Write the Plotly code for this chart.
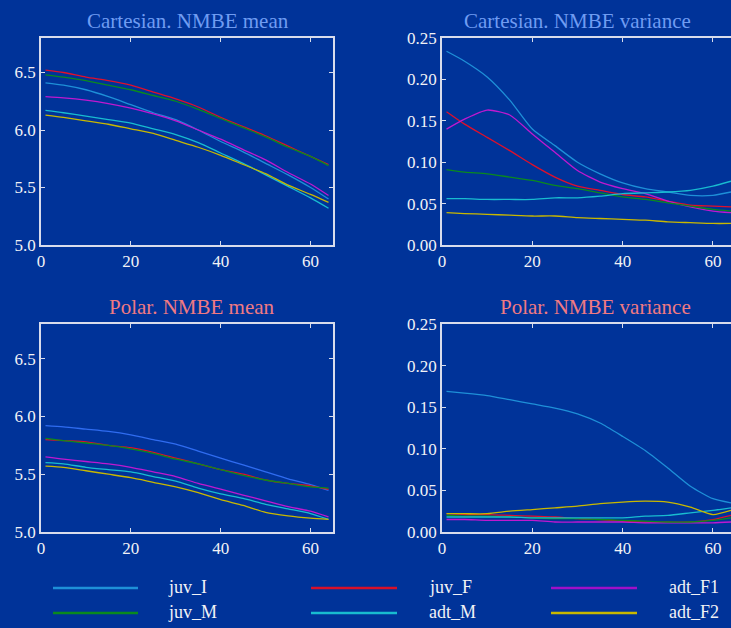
import plotly.graph_objects as go

# Sample positions along the horizontal axis
steps = [1, 5, 10, 15, 20, 25, 30, 35, 40, 45, 50, 55, 60, 64]

series = ["juv_I", "juv_F", "adt_F1", "juv_M", "adt_M", "adt_F2"]
colors = {
    "juv_I": "#1e90d8",
    "juv_F": "#e0102a",
    "adt_F1": "#c018d0",
    "juv_M": "#0a8a1e",
    "adt_M": "#18bcd0",
    "adt_F2": "#c8b800",
}
legend_colors = {
    "juv_I": "#1e90d8",
    "juv_F": "#d8102a",
    "adt_F1": "#a010c8",
    "juv_M": "#0a8a1e",
    "adt_M": "#18bcd0",
    "adt_F2": "#c8b800",
}
polar_juv_I_color = "#2f6cf0"

# Cartesian NMBE mean
cart_mean = {
    "juv_I":  [6.41, 6.39, 6.35, 6.29, 6.22, 6.15, 6.09, 6.00, 5.90, 5.81, 5.71, 5.61, 5.50, 5.40],
    "juv_F":  [6.52, 6.50, 6.46, 6.43, 6.39, 6.33, 6.27, 6.20, 6.11, 6.03, 5.95, 5.86, 5.77, 5.70],
    "adt_F1": [6.29, 6.28, 6.26, 6.23, 6.19, 6.14, 6.08, 6.00, 5.92, 5.83, 5.74, 5.63, 5.53, 5.43],
    "juv_M":  [6.48, 6.46, 6.43, 6.39, 6.35, 6.30, 6.25, 6.18, 6.10, 6.02, 5.94, 5.85, 5.77, 5.69],
    "adt_M":  [6.17, 6.15, 6.12, 6.09, 6.06, 6.01, 5.96, 5.89, 5.80, 5.71, 5.61, 5.51, 5.41, 5.32],
    "adt_F2": [6.13, 6.11, 6.08, 6.05, 6.01, 5.97, 5.91, 5.85, 5.78, 5.70, 5.62, 5.52, 5.44, 5.37],
}

# Cartesian NMBE variance
cart_var = {
    "juv_I":  [0.234, 0.222, 0.203, 0.175, 0.140, 0.120, 0.100, 0.086, 0.075, 0.068, 0.064, 0.060, 0.060, 0.064],
    "juv_F":  [0.161, 0.146, 0.130, 0.114, 0.097, 0.082, 0.071, 0.066, 0.061, 0.058, 0.053, 0.048, 0.047, 0.046],
    "adt_F1": [0.140, 0.152, 0.163, 0.157, 0.134, 0.112, 0.090, 0.076, 0.068, 0.062, 0.053, 0.046, 0.041, 0.039],
    "juv_M":  [0.091, 0.088, 0.086, 0.082, 0.078, 0.072, 0.068, 0.063, 0.058, 0.055, 0.051, 0.047, 0.043, 0.041],
    "adt_M":  [0.056, 0.056, 0.055, 0.055, 0.055, 0.057, 0.057, 0.059, 0.062, 0.063, 0.064, 0.066, 0.071, 0.077],
    "adt_F2": [0.039, 0.038, 0.037, 0.036, 0.035, 0.035, 0.033, 0.032, 0.031, 0.030, 0.028, 0.027, 0.026, 0.026],
}

# Polar NMBE mean
polar_mean = {
    "juv_I":  [5.92, 5.91, 5.89, 5.87, 5.84, 5.80, 5.76, 5.70, 5.64, 5.58, 5.52, 5.46, 5.41, 5.36],
    "juv_F":  [5.80, 5.79, 5.78, 5.75, 5.73, 5.69, 5.64, 5.59, 5.54, 5.50, 5.45, 5.42, 5.40, 5.37],
    "adt_F1": [5.65, 5.63, 5.61, 5.59, 5.56, 5.52, 5.48, 5.42, 5.37, 5.32, 5.27, 5.22, 5.18, 5.13],
    "juv_M":  [5.81, 5.79, 5.77, 5.75, 5.72, 5.68, 5.63, 5.59, 5.54, 5.49, 5.45, 5.42, 5.39, 5.38],
    "adt_M":  [5.60, 5.59, 5.56, 5.54, 5.52, 5.48, 5.44, 5.38, 5.33, 5.29, 5.24, 5.20, 5.16, 5.11],
    "adt_F2": [5.57, 5.56, 5.53, 5.50, 5.47, 5.43, 5.39, 5.34, 5.28, 5.23, 5.17, 5.14, 5.12, 5.11],
}

# Polar NMBE variance
polar_var = {
    "juv_I":  [0.169, 0.167, 0.164, 0.159, 0.154, 0.149, 0.142, 0.131, 0.115, 0.098, 0.077, 0.055, 0.040, 0.035],
    "juv_F":  [0.022, 0.021, 0.021, 0.020, 0.019, 0.018, 0.016, 0.015, 0.013, 0.012, 0.012, 0.012, 0.015, 0.020],
    "adt_F1": [0.015, 0.015, 0.014, 0.014, 0.014, 0.012, 0.012, 0.012, 0.012, 0.011, 0.011, 0.011, 0.011, 0.012],
    "juv_M":  [0.020, 0.019, 0.019, 0.018, 0.017, 0.016, 0.016, 0.015, 0.014, 0.013, 0.012, 0.012, 0.014, 0.017],
    "adt_M":  [0.018, 0.018, 0.018, 0.018, 0.017, 0.017, 0.017, 0.017, 0.017, 0.019, 0.020, 0.023, 0.026, 0.029],
    "adt_F2": [0.022, 0.022, 0.022, 0.025, 0.027, 0.029, 0.031, 0.034, 0.036, 0.037, 0.036, 0.030, 0.021, 0.026],
}

mean_ticks = [5.0, 5.5, 6.0, 6.5]
var_ticks = [0.00, 0.05, 0.10, 0.15, 0.20, 0.25]
x_ticks = [0, 20, 40, 60]

W, H = 731, 628
BG = "#003399"
FG = "#f2f2f6"
AXIS = "#d8dcec"
FONT = "Liberation Serif"


def px_x(p):
    return p / W


def px_y(p):
    return 1 - p / H


fig = go.Figure()

panels = [
    ("x", "y", cart_mean, False),
    ("x2", "y2", cart_var, False),
    ("x3", "y3", polar_mean, True),
    ("x4", "y4", polar_var, False),
]
for xa, ya, data, is_polar_mean in panels:
    for name in series:
        col = colors[name]
        if is_polar_mean and name == "juv_I":
            col = polar_juv_I_color
        fig.add_trace(go.Scatter(
            x=steps, y=data[name], mode="lines", name=name,
            line=dict(color=col, width=1.3, shape="spline", smoothing=0.6),
            xaxis=xa, yaxis=ya, showlegend=False, hoverinfo="skip",
        ))

left_dom = [px_x(41), px_x(333)]
right_dom = [px_x(442), 1.0]
top_dom = [px_y(245), px_y(38)]
bot_dom = [px_y(532), px_y(324)]

tickfont = dict(family=FONT, size=17, color=FG)


def xaxis(domain, anchor, rng):
    return dict(domain=domain, anchor=anchor, range=rng, tickvals=x_ticks,
                ticktext=[str(v) for v in x_ticks], showgrid=False,
                zeroline=False, showline=True, linecolor=AXIS, linewidth=1.5,
                ticks="inside", ticklen=4, tickcolor=AXIS, mirror="ticks",
                tickfont=tickfont, automargin=False)


def yaxis(domain, anchor, rng, vals, fmt, mirror):
    return dict(domain=domain, anchor=anchor, range=rng, tickvals=vals,
                ticktext=[fmt.format(v) for v in vals], showgrid=False,
                zeroline=False, showline=True, linecolor=AXIS, linewidth=1.5,
                ticks="inside", ticklen=4, tickcolor=AXIS, mirror=mirror,
                tickfont=tickfont, automargin=False)


fig.update_layout(
    template="none",
    width=W, height=H,
    margin=dict(l=0, r=0, t=0, b=0, pad=0),
    paper_bgcolor=BG, plot_bgcolor=BG,
    showlegend=False,
    xaxis=xaxis(left_dom, "y", [0, 65]),
    yaxis=yaxis(top_dom, "x", [5.0, 6.8], mean_ticks, "{:.1f}", "ticks"),
    xaxis2=xaxis(right_dom, "y2", [0, 64]),
    yaxis2=yaxis(top_dom, "x2", [0, 0.25], var_ticks, "{:.2f}", False),
    xaxis3=xaxis(left_dom, "y3", [0, 65]),
    yaxis3=yaxis(bot_dom, "x3", [5.0, 6.8], mean_ticks, "{:.1f}", "ticks"),
    xaxis4=xaxis(right_dom, "y4", [0, 64]),
    yaxis4=yaxis(bot_dom, "x4", [0, 0.25], var_ticks, "{:.2f}", False),
)

# Panel titles
titles = [
    ("Cartesian. NMBE mean", 188, 21, "#6f9cf2"),
    ("Cartesian. NMBE variance", 577, 21, "#6f9cf2"),
    ("Polar. NMBE mean", 192, 307, "#f07a82"),
    ("Polar. NMBE variance", 595, 307, "#f07a82"),
]
for text, cx, cy, col in titles:
    fig.add_annotation(text=text, xref="paper", yref="paper",
                       x=px_x(cx), y=px_y(cy), xanchor="center", yanchor="middle",
                       showarrow=False, font=dict(family=FONT, size=21, color=col))

# Legend: two rows of three entries
legend_rows = [["juv_I", "juv_F", "adt_F1"], ["juv_M", "adt_M", "adt_F2"]]
row_y = [588, 613]
col_line = [(53, 138), (311, 397), (551, 637)]
col_text = [166, 427, 667]
for r, row in enumerate(legend_rows):
    for c, name in enumerate(row):
        x0, x1 = col_line[c]
        fig.add_shape(type="line", xref="paper", yref="paper",
                      x0=px_x(x0), x1=px_x(x1), y0=px_y(row_y[r]), y1=px_y(row_y[r]),
                      line=dict(color=legend_colors[name], width=2.5))
        fig.add_annotation(text=name, xref="paper", yref="paper",
                           x=px_x(col_text[c]), y=px_y(row_y[r] - 1),
                           xanchor="left", yanchor="middle", showarrow=False,
                           font=dict(family=FONT, size=18, color=FG))

fig.write_html("out.html")
